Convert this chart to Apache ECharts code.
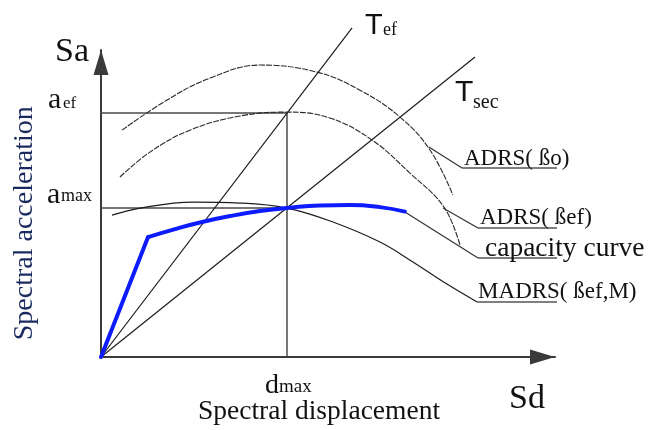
<!DOCTYPE html>
<html>
<head>
<meta charset="utf-8">
<script src="https://cdn.jsdelivr.net/npm/echarts@6/dist/echarts.min.js"></script>
<style>
  html, body { margin: 0; padding: 0; background: #ffffff; }
  #chart { width: 657px; height: 430px; }
</style>
</head>
<body>
<div id="chart"></div>
<script>
// Capacity spectrum method sketch. Units are normalised so that the
// displacement of the performance point (d_max) equals 1.

// Performance point and effective demand level
const dMax = 1.0;
const aMax = 0.801;
const aEf = 1.312;

// Axis extents (arrow tips)
const axisSdMax = 2.441;
const axisSaMax = 1.651;

// Capacity curve: elastic branch, then post-yield branch
const capElasticSd = [0, 0.253];
const capElasticSa = [0, 0.645];
const capPostSd = [0.253, 0.398, 0.532, 0.694, 0.855, 1.000, 1.177, 1.339, 1.500, 1.634];
const capPostSa = [0.645, 0.688, 0.723, 0.758, 0.785, 0.801, 0.815, 0.817, 0.806, 0.782];

// Demand spectra
const adrsB0Sd = [0.113, 0.355, 0.586, 0.855, 1.161, 1.392, 1.608, 1.769, 1.892];
const adrsB0Sa = [1.220, 1.382, 1.500, 1.570, 1.532, 1.435, 1.290, 1.113, 0.871];
const adrsBefSd = [0.102, 0.263, 0.478, 0.747, 1.000, 1.231, 1.457, 1.661, 1.844, 1.930];
const adrsBefSa = [0.968, 1.102, 1.220, 1.296, 1.317, 1.285, 1.167, 0.989, 0.806, 0.602];
const madrsSd = [0.059, 0.210, 0.495, 0.747, 1.000, 1.247, 1.500, 1.677, 1.860, 2.022];
const madrsSa = [0.763, 0.801, 0.833, 0.828, 0.801, 0.726, 0.618, 0.511, 0.392, 0.296];

// Period lines through the origin
const tEfSd = [0, 1.350];
const tEfSa = [0, 1.770];
const tSecSd = [0, 2.011];
const tSecSa = [0, 1.613];

// Guide lines to the axes
const aEfGuideSd = [-0.129, dMax];
const aMaxGuideSd = [-0.285, dMax];
const dMaxGuideSa = [0, aEf];

// Leader lines with underlines for the curve labels
const leaderB0Sd = [1.763, 1.941, 2.946];
const leaderB0Sa = [1.129, 1.016, 1.016];
const leaderBefSd = [1.839, 2.027, 2.989];
const leaderBefSa = [0.801, 0.694, 0.694];
const leaderCapSd = [1.634, 2.027, 2.989];
const leaderCapSa = [0.780, 0.532, 0.532];
const leaderMadrsSd = [2.022, 2.989];
const leaderMadrsSa = [0.296, 0.296];

const curveLabels = ['ADRS( \u00dfo)', 'ADRS( \u00dfef)', 'capacity curve', 'MADRS( \u00dfef,M)'];
const axisTitles = ['Spectral displacement', 'Spectral acceleration'];

const SERIF = '"Liberation Serif", "Times New Roman", serif';
const SANS = '"Liberation Sans", Arial, sans-serif';

function pairs(xs, ys) {
  return xs.map(function (x, i) { return [x, ys[i]]; });
}
function line(name, xs, ys, style, smooth, z) {
  return {
    name: name, type: 'line', data: pairs(xs, ys),
    symbol: 'none', showSymbol: false, clip: false, silent: true,
    smooth: smooth || false, z: z || 2,
    lineStyle: style
  };
}

const thin = { color: '#1c1c1c', width: 1.2 };
const guide = { color: '#4a4a4a', width: 1.5 };
const dashed = { color: '#2a2a2a', width: 1.1, type: [6, 1.3] };
const lead = { color: '#333333', width: 1.2 };
const under = { color: '#555555', width: 1.5 };
const blue = { color: '#0d1bff', width: 4, cap: 'round', join: 'round' };

const axisLine = {
  show: true,
  symbol: ['none', 'triangle'],
  symbolSize: [15, 25],
  symbolOffset: [0, -12.5],
  lineStyle: { color: '#3a3a3a', width: 2 }
};

const chart = echarts.init(document.getElementById('chart'), null, { renderer: 'canvas' });

chart.setOption({
  animation: false,
  backgroundColor: '#ffffff',
  grid: { left: 101, top: 50, width: 454, height: 307, containLabel: false, outerBoundsMode: 'none' },
  xAxis: {
    type: 'value', min: 0, max: axisSdMax,
    axisLine: axisLine, axisTick: { show: false }, axisLabel: { show: false }, splitLine: { show: false }
  },
  yAxis: {
    type: 'value', min: 0, max: axisSaMax,
    axisLine: axisLine, axisTick: { show: false }, axisLabel: { show: false }, splitLine: { show: false }
  },
  series: [
    line('a_ef', aEfGuideSd, [aEf, aEf], guide),
    line('a_max', aMaxGuideSd, [aMax, aMax], guide),
    line('d_max', [dMax, dMax], dMaxGuideSa, guide),
    line('T_ef', tEfSd, tEfSa, thin),
    line('T_sec', tSecSd, tSecSa, thin),
    line('ADRS b0', adrsB0Sd, adrsB0Sa, dashed, 0.4),
    line('ADRS bef', adrsBefSd, adrsBefSa, dashed, 0.4),
    line('MADRS', madrsSd, madrsSa, thin, 0.4),
    line('lead b0', leaderB0Sd.slice(0, 2), leaderB0Sa.slice(0, 2), lead),
    line('under b0', leaderB0Sd.slice(1), leaderB0Sa.slice(1), under),
    line('lead bef', leaderBefSd.slice(0, 2), leaderBefSa.slice(0, 2), lead),
    line('under bef', leaderBefSd.slice(1), leaderBefSa.slice(1), under),
    line('lead cap', leaderCapSd.slice(0, 2), leaderCapSa.slice(0, 2), lead),
    line('under cap', leaderCapSd.slice(1), leaderCapSa.slice(1), under),
    line('under madrs', leaderMadrsSd, leaderMadrsSa, under),
    line('capacity elastic', capElasticSd, capElasticSa, blue, false, 5),
    line('capacity', capPostSd, capPostSa, blue, 0.5, 5)
  ]
});

// Text placed relative to data anchors; (dx, dy) is the offset of the baseline start
function px(x, y) { return chart.convertToPixel({ gridIndex: 0 }, [x, y]); }
function text(anchor, dx, dy, str, size, family, opts) {
  opts = opts || {};
  const align = opts.align || 'left';
  return {
    type: 'text', silent: true, z: 10,
    x: anchor[0] + dx, y: anchor[1] + dy - 0.24 * size,
    rotation: opts.rotation || 0,
    style: {
      text: str, font: size + 'px ' + family, fill: opts.color || '#111111',
      align: align, verticalAlign: 'middle',
      textAlign: align, textVerticalAlign: 'middle'
    }
  };
}

const origin = px(0, 0);
const yTip = px(0, axisSaMax);
const xTip = px(axisSdMax, 0);
const aEfStart = px(aEfGuideSd[0], aEf);
const aMaxStart = px(aMaxGuideSd[0], aMax);
const dMaxFoot = px(dMax, 0);
const tEfEnd = px(tEfSd[1], tEfSa[1]);
const tSecEnd = px(tSecSd[1], tSecSa[1]);
const b0Under = px(leaderB0Sd[1], leaderB0Sa[1]);
const befUnder = px(leaderBefSd[1], leaderBefSa[1]);
const capUnder = px(leaderCapSd[1], leaderCapSa[1]);
const madrsUnder = px(leaderMadrsSd[0], leaderMadrsSa[0]);

chart.setOption({
  graphic: [
    text(yTip, -46, 10, 'Sa', 34, SERIF),
    text(xTip, -46, 50, 'Sd', 34, SERIF),
    text(aEfStart, -29, -6, 'a', 30, SERIF),
    text(aEfStart, -14, -5, 'ef', 17, SERIF),
    text(aMaxStart, -1, -6, 'a', 30, SERIF),
    text(aMaxStart, 13, -7, 'max', 18, SERIF),
    text(dMaxFoot, -22, 35, 'd', 28, SERIF),
    text(dMaxFoot, -8, 35, 'max', 19, SERIF),
    text(tEfEnd, 13, 5, 'T', 29, SANS),
    text(tEfEnd, 31, 7, 'ef', 18, SERIF),
    text(tSecEnd, -20, 43, 'T', 30, SANS),
    text(tSecEnd, -2, 50, 'sec', 20, SERIF),
    text(origin, 218, 61, axisTitles[0], 27.5, SERIF, { align: 'center' }),
    text(origin, -76, -127, axisTitles[1], 28, SERIF, { align: 'center', rotation: Math.PI / 2, color: '#1a2a5e' }),
    text(b0Under, 2, -4, curveLabels[0], 23, SERIF),
    text(befUnder, 2, -4, curveLabels[1], 23, SERIF),
    text(capUnder, 7, -3, curveLabels[2], 27.5, SERIF),
    text(madrsUnder, 1, -4, curveLabels[3], 23, SERIF)
  ]
});
</script>
</body>
</html>
